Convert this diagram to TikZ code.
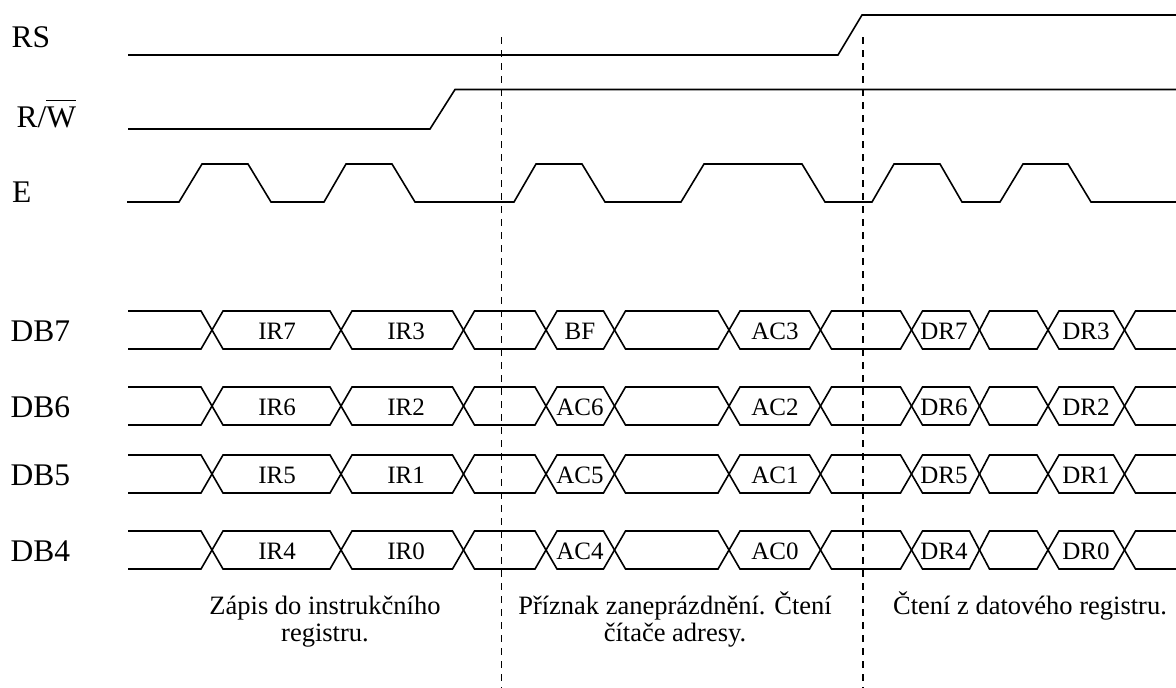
\documentclass[tikz,border=0pt]{standalone}
\usepackage{fontspec}
\setmainfont{Liberation Serif}
\newcommand{\busA}[2]{(128,#1) -- (201,#1) -- (223,#2) -- (330,#2) -- (352,#1) -- (452.5,#1) -- (474.5,#2) -- (535,#2) -- (557,#1) -- (603.5,#1) -- (625.5,#2) -- (718,#2) -- (740,#1) -- (809.5,#1) -- (831.5,#2) -- (900.5,#2) -- (922.5,#1) -- (969.5,#1) -- (989.5,#2) -- (1037,#2) -- (1059,#1) -- (1113.5,#1) -- (1135.5,#2) -- (1176,#2)}
\tikzset{
  sig/.style={line width=1.6pt, line join=miter, black},
  sep/.style={line width=1.6pt, dash pattern=on 7pt off 6pt, black},
  siglbl/.style={anchor=base west, inner sep=0pt, font=\fontsize{31.5}{37}\selectfont},
  vallbl/.style={anchor=base, inner sep=0pt, font=\fontsize{25}{30}\selectfont},
  note/.style={anchor=base, inner sep=0pt, font=\fontsize{26.5}{31}\selectfont},
}
\begin{document}
\begin{tikzpicture}[x=1pt,y=-1pt]
\useasboundingbox (0,0) rectangle (1176,688);
% signal names
\node[siglbl] (lRS) at (11.5,47.5) {RS};
\node[siglbl] (lRW) at (16.5,127) {R/\ensuremath{\overline{\hbox{\strut W}}}};
\node[siglbl] (lE) at (12,202) {E};
\node[siglbl] (lDB7) at (10.5,341) {DB7};
\node[siglbl] (lDB6) at (10.5,417) {DB6};
\node[siglbl] (lDB5) at (10.5,485) {DB5};
\node[siglbl] (lDB4) at (10.5,561) {DB4};
% RS
\draw[sig] (128,55) -- (838,55) -- (862,15) -- (1176,15);
% R/W
\draw[sig] (128,129) -- (430,129) -- (455,89.5) -- (1176,89.5);
% E
\draw[sig] (127,202) -- (179,202) -- (202,164) -- (248,164) -- (271,202) -- (324,202) -- (346,164) -- (392,164) -- (415,202) -- (514,202) -- (536,164) -- (582,164) -- (605,202) -- (681,202) -- (704,164) -- (802,164) -- (825,202) -- (872,202) -- (894,164) -- (940,164) -- (962,202) -- (1000,202) -- (1023,164) -- (1068,164) -- (1091,202) -- (1176,202);
% data buses
\draw[sig] \busA{311}{349};
\draw[sig] \busA{349}{311};
\draw[sig] \busA{387}{425};
\draw[sig] \busA{425}{387};
\draw[sig] \busA{455}{493};
\draw[sig] \busA{493}{455};
\draw[sig] \busA{531}{569};
\draw[sig] \busA{569}{531};
% values
\node[vallbl] (v77) at (277,339.5) {IR7};
\node[vallbl] (v73) at (406,339.5) {IR3};
\node[vallbl] (v7b) at (580,339.5) {BF};
\node[vallbl] (v7a) at (775,339.5) {AC3};
\node[vallbl] (v7d) at (944,339.5) {DR7};
\node[vallbl] (v7e) at (1086,339.5) {DR3};
\node[vallbl] (v66) at (277,415.5) {IR6};
\node[vallbl] (v62) at (406,415.5) {IR2};
\node[vallbl] (v6b) at (580,415.5) {AC6};
\node[vallbl] (v6a) at (775,415.5) {AC2};
\node[vallbl] (v6d) at (944,415.5) {DR6};
\node[vallbl] (v6e) at (1086,415.5) {DR2};
\node[vallbl] (v55) at (277,483.5) {IR5};
\node[vallbl] (v51) at (406,483.5) {IR1};
\node[vallbl] (v5b) at (580,483.5) {AC5};
\node[vallbl] (v5a) at (775,483.5) {AC1};
\node[vallbl] (v5d) at (944,483.5) {DR5};
\node[vallbl] (v5e) at (1086,483.5) {DR1};
\node[vallbl] (v44) at (277,559) {IR4};
\node[vallbl] (v40) at (406,559) {IR0};
\node[vallbl] (v4b) at (580,559) {AC4};
\node[vallbl] (v4a) at (775,559) {AC0};
\node[vallbl] (v4d) at (944,559) {DR4};
\node[vallbl] (v4e) at (1086,559) {DR0};
% separators
\coordinate (s1t) at (501.5,37);
\coordinate (s1b) at (501.5,688);
\coordinate (s2t) at (863,37);
\coordinate (s2b) at (863,688);
\draw[sep] (s1t) -- (s1b);
\draw[sep] (s2t) -- (s2b);
% notes
\node[note] (n1a) at (325,614.5) {Zápis do instrukčního};
\node[note] (n1b) at (325,641) {registru.};
\node[note] (n2a) at (675,614.5) {Příznak zaneprázdnění. Čtení};
\node[note] (n2b) at (675,641) {čítače adresy.};
\node[note] (n3a) at (1030,614.5) {Čtení z datového registru.};
\end{tikzpicture}
\end{document}
